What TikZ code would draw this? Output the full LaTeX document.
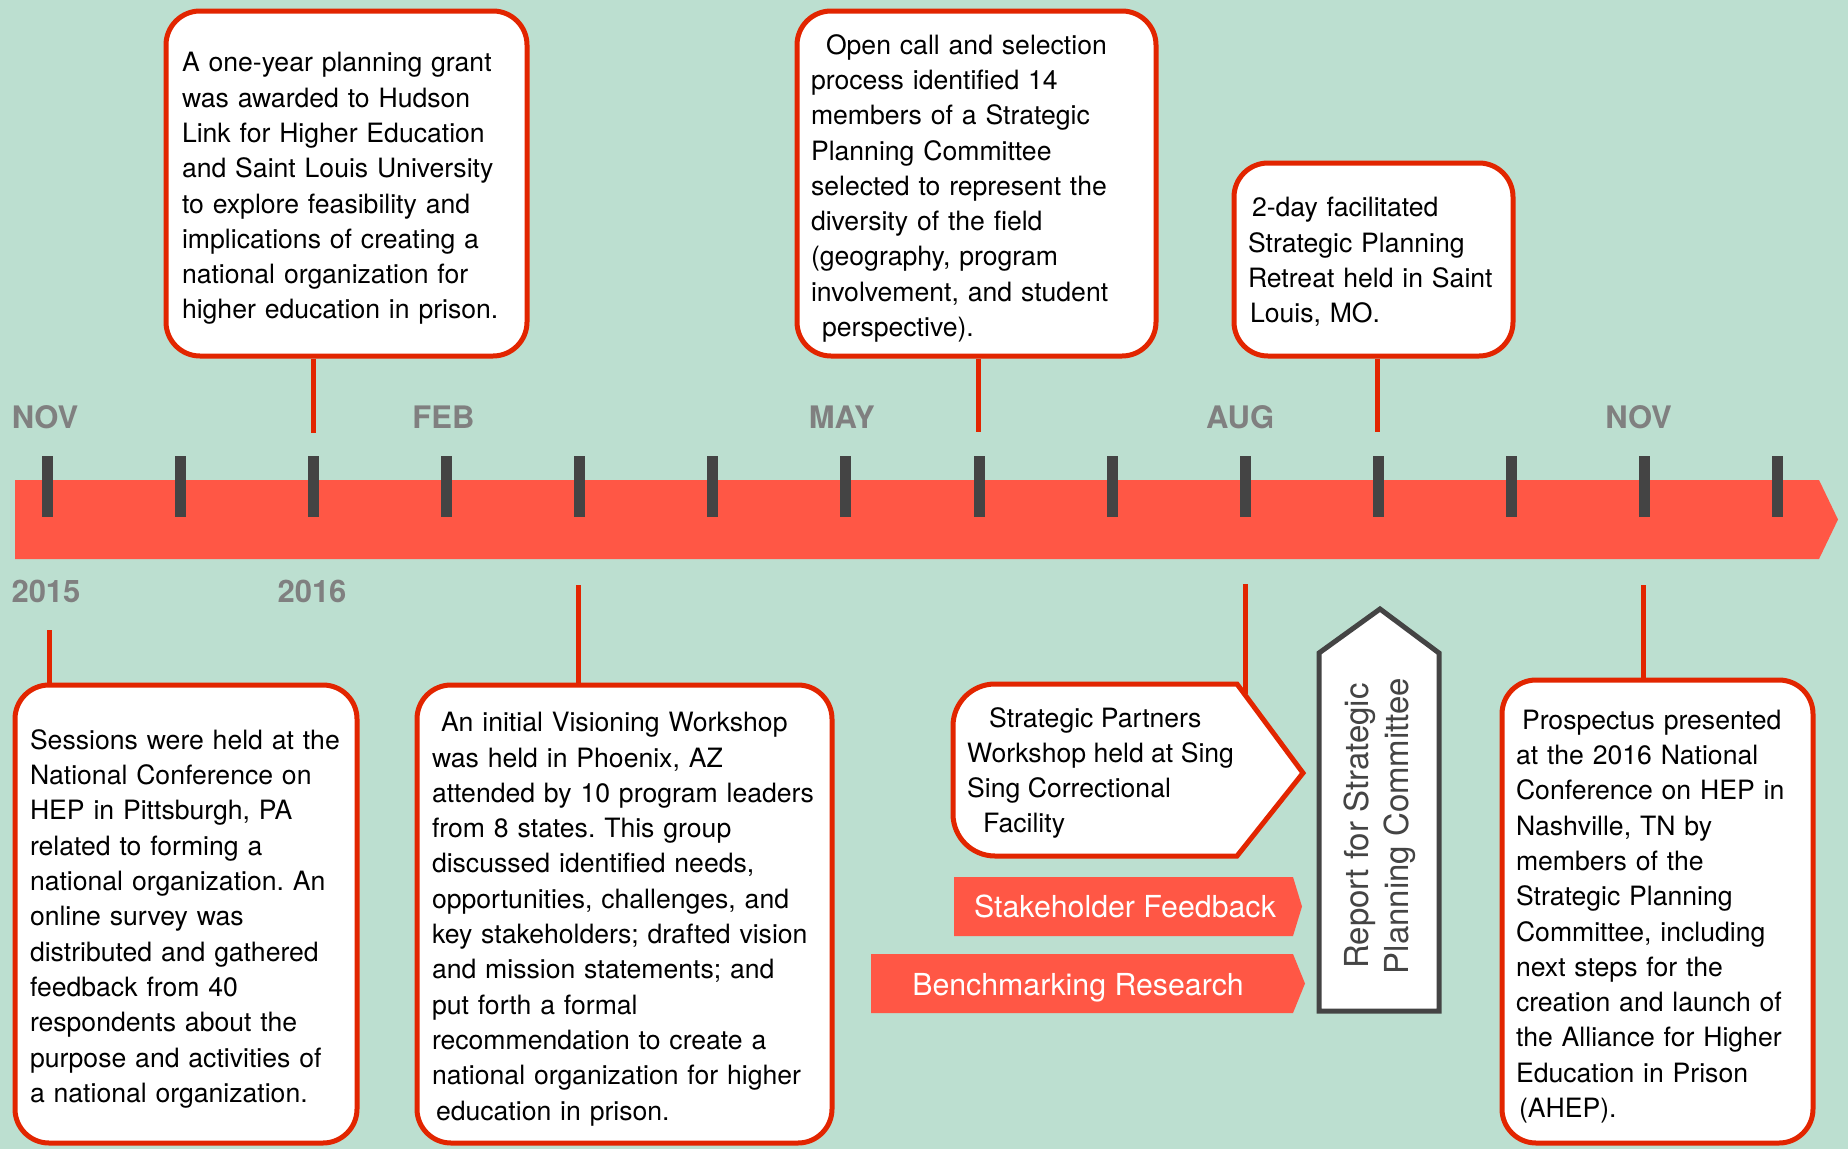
\documentclass[tikz,border=0pt]{standalone}
\usepackage{fontspec}
\setmainfont{TeX Gyre Heros}
\usepackage{tikz}
\usetikzlibrary{positioning}
\definecolor{mintbg}{RGB}{188,223,208}
\definecolor{barred}{RGB}{255,87,69}
\definecolor{edgered}{RGB}{226,37,0}
\definecolor{inkgray}{RGB}{68,68,68}
\definecolor{monthgray}{RGB}{128,128,128}
\newcommand\lift{\rule{0pt}{29.5pt}}
\frenchspacing

\begin{document}
\begin{tikzpicture}[x=1pt,y=-1pt,
  card/.style={draw=edgered,line width=5pt,fill=white,rounded corners=34pt,align=left,inner sep=0pt,font=\fontsize{26.6}{35.3}\selectfont\frenchspacing},
  link/.style={edgered,line width=5pt},
  tickmark/.style={inkgray,line width=11pt},
  month/.style={monthgray,anchor=base,font=\fontsize{31}{36}\selectfont\bfseries},
  tag/.style={white,anchor=base,font=\fontsize{30.3}{36}\selectfont}]
 \useasboundingbox[fill=mintbg] (0,0) rectangle (1848,1149);
 % timeline
 \fill[barred] (15,480) -- (1819,480) -- (1838,519.5) -- (1819,559) -- (15,559) -- cycle;
 \foreach \i in {0,...,13} \draw[tickmark] (47+133.15*\i,456) -- (47+133.15*\i,517);
 \foreach \m/\i in {NOV/0,FEB/3,MAY/6,AUG/9,NOV/12} \node[month] (m\i) at (45+132.8*\i,428) {\m};
 \node[month] (y15) at (46,602) {2015};
 \node[month] (y16) at (312,602) {2016};
 % above the line
 \node[card,minimum width=361pt,minimum height=345pt,text width=329pt] (grant) at (346.5,183.5)
  {\lift A one-year planning grant\\was awarded to Hudson\\Link for Higher Education\\and Saint Louis University\\to explore feasibility and\\implications of creating a\\national organization for\\higher education in prison.};
 \node[card,minimum width=359pt,minimum height=345pt,text width=331pt] (call) at (976.5,183.5)
  {\lift\hspace*{15pt}Open call and selection\\process identified 14\\members of a Strategic\\Planning Committee\\selected to represent the\\diversity of the field\\(geography, program\\involvement, and student\\\hspace*{11pt}perspective).};
 \node[card,minimum width=279pt,minimum height=193pt,text width=251pt] (retreat) at (1373.5,259.5)
  {\rule{0pt}{24.5pt}\hspace*{4pt}2-day facilitated\\Strategic Planning\\Retreat held in Saint\\\hspace*{2pt}Louis, MO.};
 \coordinate (g) at (313,433);
 \coordinate (c) at (978,432);
 \coordinate (r) at (1377,432);
 \draw[link] (grant.south -| g) -- (g);
 \draw[link] (call.south -| c) -- (c);
 \draw[link] (retreat.south -| r) -- (r);
 % below the line
 \node[card,minimum width=342pt,minimum height=458pt,text width=312pt] (sessions) at (186,914)
  {\lift Sessions were held at the\\National Conference on\\HEP in Pittsburgh, PA\\related to forming a\\national organization. An\\online survey was\\distributed and gathered\\feedback from 40\\respondents about the\\purpose and activities of\\a national organization.};
 \node[card,minimum width=415pt,minimum height=458pt,text width=385pt] (vision) at (624.5,914)
  {\lift\hspace*{9pt}An initial Visioning Workshop\\was held in Phoenix, AZ\\attended by 10 program leaders\\from 8 states. This group\\discussed identified needs,\\opportunities, challenges, and\\key stakeholders; drafted vision\\and mission statements; and\\put forth a formal\\recommendation to create a\\national organization for higher\\\hspace*{4pt}education in prison.};
 \node[card,minimum width=311pt,minimum height=463pt,text width=283pt] (prospectus) at (1657.5,911.5)
  {\lift\hspace*{6pt}Prospectus presented\\at the 2016 National\\Conference on HEP in\\Nashville, TN by\\members of the\\Strategic Planning\\Committee, including\\next steps for the\\creation and launch of\\the Alliance for Higher\\Education in Prison\\\hspace*{3pt}(AHEP).};
 \draw[edgered,line width=5pt,fill=white] (1237,684) -- (1303,773) -- (1237,856) -- (995,856)
   arc[start angle=90,end angle=180,radius=42] -- (953,726)
   arc[start angle=180,end angle=270,radius=42] -- cycle;
 \node[align=left,anchor=west,inner sep=0pt,font=\fontsize{26.6}{35.3}\selectfont] (partners) at (967,773)
  {\hspace*{22pt}Strategic Partners\\Workshop held at Sing\\Sing Correctional\\\hspace*{16pt}Facility};
 \coordinate (s) at (49,630);
 \coordinate (v) at (578,585);
 \coordinate (p) at (1245,584);
 \coordinate (pk) at (1245,694);
 \coordinate (n) at (1643,585);
 \draw[link] (s) -- (s |- sessions.north);
 \draw[link] (v) -- (v |- vision.north);
 \draw[link] (p) -- (pk);
 \draw[link] (n) -- (n |- prospectus.north);
 % research tracks
 \fill[barred] (954,877) -- (1293,877) -- (1302,906.5) -- (1293,936) -- (954,936) -- cycle;
 \node[tag] (feedback) at (1125,917) {Stakeholder Feedback};
 \fill[barred] (871,954) -- (1293,954) -- (1305,983.5) -- (1293,1013) -- (871,1013) -- cycle;
 \node[tag] (bench) at (1078,995) {Benchmarking Research};
 % report
 \draw[inkgray,line width=5pt,fill=white] (1319,1011) -- (1319,653) -- (1380,609) -- (1439,653) -- (1439,1011) -- cycle;
 \node[inkgray,rotate=90,align=center,font=\fontsize{33}{40}\selectfont] (report) at (1380,826) {Report for Strategic\\Planning Committee};
\end{tikzpicture}
\end{document}
